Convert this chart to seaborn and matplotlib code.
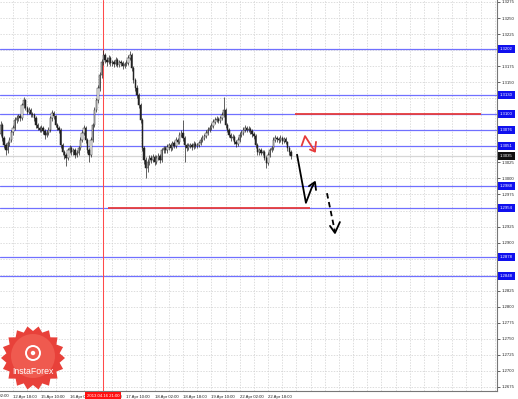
import numpy as np
import pandas as pd
import matplotlib
matplotlib.use("Agg")
import matplotlib.pyplot as plt
import matplotlib.transforms as mtrans
from matplotlib.patches import Polygon, Circle
import seaborn as sns

sns.set_style("white")
plt.rcParams['font.family'] = ['Liberation Sans', 'DejaVu Sans']

# ---------------- data (EURUSD H1) ----------------
open0 = 1.3070
closes = [1.3083,1.3063,1.3052,1.3044,1.3055,1.3060,1.3072,1.3079,1.3091,1.3094,
          1.3097,1.3094,1.3114,1.3122,1.3110,1.3104,1.3107,1.3100,1.3099,1.3094,
          1.3083,1.3079,1.3076,1.3079,1.3074,1.3068,1.3071,1.3076,1.3094,1.3102,
          1.3097,1.3083,1.3079,1.3076,1.3052,1.3041,1.3037,1.3032,1.3044,1.3047,
          1.3041,1.3044,1.3037,1.3040,1.3047,1.3060,1.3071,1.3079,1.3060,1.3044,
          1.3037,1.3060,1.3083,1.3107,1.3122,1.3141,1.3161,1.3181,1.3192,1.3185,
          1.3181,1.3188,1.3180,1.3181,1.3178,1.3185,1.3177,1.3181,1.3180,1.3175,
          1.3178,1.3180,1.3188,1.3192,1.3172,1.3153,1.3141,1.3130,1.3114,1.3091,
          1.3047,1.3029,1.3016,1.3026,1.3032,1.3029,1.3033,1.3026,1.3032,1.3035,
          1.3029,1.3044,1.3047,1.3044,1.3049,1.3052,1.3047,1.3055,1.3051,1.3060,
          1.3057,1.3068,1.3071,1.3063,1.3052,1.3047,1.3051,1.3052,1.3049,1.3054,
          1.3051,1.3052,1.3055,1.3060,1.3063,1.3066,1.3071,1.3076,1.3079,1.3082,
          1.3088,1.3091,1.3093,1.3090,1.3094,1.3099,1.3107,1.3083,1.3076,1.3068,
          1.3063,1.3065,1.3057,1.3054,1.3060,1.3068,1.3071,1.3076,1.3079,1.3076,
          1.3077,1.3074,1.3069,1.3066,1.3052,1.3041,1.3044,1.3040,1.3041,1.3032,
          1.3024,1.3037,1.3044,1.3047,1.3060,1.3063,1.3061,1.3060,1.3063,1.3058,
          1.3061,1.3057,1.3047,1.3041,1.3035]
highs = [1.3090,1.3087,1.3066,1.3056,1.3059,1.3064,1.3076,1.3083,1.3095,1.3099,
         1.3101,1.3100,1.3118,1.3127,1.3124,1.3113,1.3111,1.3110,1.3104,1.3102,
         1.3097,1.3087,1.3082,1.3083,1.3082,1.3077,1.3075,1.3080,1.3098,1.3106,
         1.3105,1.3099,1.3087,1.3082,1.3078,1.3055,1.3045,1.3040,1.3048,1.3052,
         1.3050,1.3048,1.3047,1.3044,1.3051,1.3064,1.3075,1.3084,1.3082,1.3063,
         1.3048,1.3064,1.3087,1.3111,1.3126,1.3146,1.3166,1.3186,1.3200,1.3195,
         1.3189,1.3192,1.3191,1.3185,1.3184,1.3189,1.3188,1.3185,1.3185,1.3183,
         1.3182,1.3184,1.3193,1.3199,1.3195,1.3175,1.3157,1.3145,1.3133,1.3117,
         1.3094,1.3050,1.3034,1.3031,1.3037,1.3036,1.3038,1.3036,1.3036,1.3039,
         1.3038,1.3048,1.3051,1.3050,1.3053,1.3056,1.3055,1.3059,1.3058,1.3064,
         1.3063,1.3072,1.3076,1.3091,1.3066,1.3055,1.3055,1.3056,1.3055,1.3058,
         1.3057,1.3056,1.3059,1.3064,1.3067,1.3070,1.3075,1.3080,1.3083,1.3086,
         1.3092,1.3095,1.3097,1.3096,1.3098,1.3103,1.3127,1.3110,1.3086,1.3079,
         1.3071,1.3069,1.3068,1.3060,1.3064,1.3072,1.3075,1.3080,1.3084,1.3082,
         1.3081,1.3080,1.3077,1.3072,1.3069,1.3055,1.3048,1.3047,1.3045,1.3044,
         1.3035,1.3041,1.3048,1.3051,1.3064,1.3068,1.3066,1.3065,1.3067,1.3066,
         1.3065,1.3064,1.3059,1.3050,1.3044]
lows = [1.3066,1.3058,1.3047,1.3037,1.3040,1.3051,1.3057,1.3068,1.3076,1.3087,
        1.3090,1.3089,1.3091,1.3110,1.3106,1.3100,1.3100,1.3096,1.3095,1.3090,
        1.3079,1.3075,1.3072,1.3073,1.3070,1.3062,1.3065,1.3068,1.3073,1.3090,
        1.3093,1.3080,1.3075,1.3071,1.3048,1.3036,1.3030,1.3019,1.3028,1.3040,
        1.3037,1.3036,1.3032,1.3033,1.3036,1.3044,1.3057,1.3067,1.3056,1.3040,
        1.3026,1.3034,1.3057,1.3080,1.3103,1.3118,1.3137,1.3157,1.3177,1.3180,
        1.3176,1.3178,1.3176,1.3176,1.3174,1.3175,1.3173,1.3174,1.3176,1.3170,
        1.3172,1.3175,1.3177,1.3185,1.3168,1.3148,1.3136,1.3125,1.3109,1.3086,
        1.3042,1.3022,1.3001,1.3010,1.3021,1.3024,1.3025,1.3021,1.3022,1.3028,
        1.3024,1.3026,1.3040,1.3040,1.3040,1.3045,1.3043,1.3044,1.3047,1.3048,
        1.3053,1.3054,1.3064,1.3059,1.3026,1.3043,1.3044,1.3047,1.3045,1.3046,
        1.3047,1.3048,1.3049,1.3052,1.3057,1.3060,1.3063,1.3068,1.3073,1.3076,
        1.3079,1.3085,1.3088,1.3086,1.3087,1.3091,1.3096,1.3079,1.3072,1.3064,
        1.3059,1.3060,1.3053,1.3049,1.3051,1.3057,1.3065,1.3068,1.3073,1.3072,
        1.3073,1.3070,1.3065,1.3062,1.3048,1.3037,1.3037,1.3036,1.3036,1.3028,
        1.3016,1.3021,1.3034,1.3041,1.3044,1.3057,1.3057,1.3056,1.3057,1.3054,
        1.3055,1.3053,1.3043,1.3037,1.3031]

level_prices = [1.3202, 1.3130, 1.3100, 1.3076, 1.3051, 1.2988, 1.2954, 1.2878, 1.2848]
red_levels = [1.3100, 1.2954]
red_start_bar = [166, 60.6]
red_end_bar = [271, 174.7]

ytick_labels = ["1.2675","1.2700","1.2725","1.2750","1.2775","1.2800","1.2825","1.2850",
                "1.2875","1.2900","1.2925","1.2950","1.2975","1.3000","1.3025","1.3050",
                "1.3075","1.3100","1.3125","1.3150","1.3175","1.3200","1.3225","1.3250","1.3275"]
xtick_bars = [7, 23, 39, 55, 71, 87, 103, 119, 135, 151]
xtick_labels = ["12 Apr 18:00","15 Apr 10:00","16 Apr 02:00","16 Apr 18:00","17 Apr 10:00",
                "18 Apr 02:00","18 Apr 18:00","19 Apr 10:00","22 Apr 02:00","22 Apr 18:00"]
cut_bar, cut_label = -9, "12 Apr 02:00"
cross_bar, cross_label = 58, "2013.04.16 21:00"

fc_black = pd.DataFrame({"bar": [167.4, 172.4, 175.6, 177.2],
                         "price": [1.3037, 1.2962, 1.2985, 1.2993]})
fc_black_head = pd.DataFrame({"bar": [174.1, 177.5, 178.1], "price": [1.2988, 1.29945, 1.2982]})
fc_dash = pd.DataFrame({"bar": [184.3, 188.8], "price": [1.2977, 1.2917]})
fc_dash_head = pd.DataFrame({"bar": [186.0, 188.8, 191.6], "price": [1.2926, 1.2915, 1.2932]})
fc_red = pd.DataFrame({"bar": [170.0, 171.9, 177.5], "price": [1.3051, 1.3066, 1.3042]})
fc_red_head = pd.DataFrame({"bar": [174.7, 177.5, 178.1], "price": [1.3045, 1.3042, 1.3057]})

# ---------------- figure ----------------
W, H = 518, 399
fig = plt.figure(figsize=(W / 100, H / 100), dpi=100)
ax = fig.add_axes([0, 8 / H, 497 / W, 391 / H])
ax.set_xlim(-0.34, 280.3)
ax.set_ylim(1.26687, 1.32781)

yt = [float(s) for s in ytick_labels]
boxed = level_prices + [closes[-1]]
shown = [("" if min(abs(v - b) for b in boxed) < 0.0007 else s) for v, s in zip(yt, ytick_labels)]
ax.set_yticks(yt)
ax.set_yticklabels(shown)
ax.yaxis.tick_right()
ax.set_xticks(xtick_bars)
ax.set_xticklabels(xtick_labels)
for lbl in ax.get_xticklabels():
    lbl.set_horizontalalignment("left")
ax.tick_params(axis="both", labelsize=3.1, colors="#222222", length=2, width=0.5, pad=1)
ax.tick_params(axis="x", pad=1.2)

for s in ["top", "left"]:
    ax.spines[s].set_visible(False)
for s in ["right", "bottom"]:
    ax.spines[s].set_color("#777777")
    ax.spines[s].set_linewidth(0.8)

# grid
for p in yt:
    ax.axhline(p, color="#cfcfcf", lw=0.5, ls=(0, (2, 2)), zorder=0)
for b in np.arange(-1, 281, 8):
    ax.axvline(b, color="#cfcfcf", lw=0.5, ls=(0, (2, 2)), zorder=0)

# levels
for p in level_prices:
    ax.axhline(p, color="#7070ff", lw=0.9, zorder=1)
for p, a, b in zip(red_levels, red_start_bar, red_end_bar):
    ax.plot([a, b], [p, p], color="#e63b3b", lw=1.3, zorder=2, solid_capstyle="butt")

# bid line
ax.axhline(closes[-1], color="#d6d6d6", lw=0.9, zorder=1)

# crosshair
ax.axvline(cross_bar, color="#ff4a4a", lw=0.75, zorder=1.5, snap=True)

# candles
opens = [open0] + closes[:-1]
xs = np.arange(len(closes))
o = np.array(opens); c = np.array(closes)
ax.vlines(xs, lows, highs, color="#222222", lw=0.5, zorder=3)
bull = c >= o
ax.bar(xs[bull], np.maximum(c - o, 0.00006)[bull], bottom=o[bull], width=0.75,
       color="white", edgecolor="#222222", linewidth=0.35, zorder=4)
ax.bar(xs[~bull], (o - c)[~bull], bottom=c[~bull], width=0.75,
       color="#222222", edgecolor="#222222", linewidth=0.35, zorder=4)

# forecast arrows
kw = dict(x="bar", y="price", sort=False, estimator=None, ax=ax, legend=False)
sns.lineplot(data=fc_black, color="black", lw=1.3, **kw)
sns.lineplot(data=fc_black_head, color="black", lw=1.3, **kw)
sns.lineplot(data=fc_dash, color="black", lw=1.3, linestyle=(0, (3, 2)), **kw)
sns.lineplot(data=fc_dash_head, color="black", lw=1.3, **kw)
sns.lineplot(data=fc_red, color="#e63b3b", lw=1.3, **kw)
sns.lineplot(data=fc_red_head, color="#e63b3b", lw=1.3, **kw)
ax.set_xlabel(""); ax.set_ylabel("")

# price labels on right axis
tr = mtrans.blended_transform_factory(ax.transAxes, ax.transData)
for p in level_prices:
    ax.text(1.006, p, f"{p:.4f}", transform=tr, ha="left", va="center", fontsize=3.1,
            color="white", clip_on=False, zorder=10,
            bbox=dict(boxstyle="square,pad=0.45", fc="#1010ee", ec="none"))
ax.text(1.006, closes[-1], f"{closes[-1]:.4f}", transform=tr, ha="left", va="center",
        fontsize=3.1, color="white", clip_on=False, zorder=10,
        bbox=dict(boxstyle="square,pad=0.45", fc="#111111", ec="none"))

# date labels at bottom
trx = mtrans.blended_transform_factory(ax.transData, ax.transAxes)
ax.text(cut_bar, -0.0125, cut_label, transform=trx, ha="left", va="center", fontsize=3.1,
        color="#222222", clip_on=False)
ax.text(cross_bar, -0.0125, cross_label, transform=trx, ha="center", va="center",
        fontsize=3.1, color="white", clip_on=False, zorder=10,
        bbox=dict(boxstyle="square,pad=0.4", fc="#ff1010", ec="none"))

# InstaForex watermark
ov = fig.add_axes([0, 0, 1, 1], zorder=5)
ov.set_xlim(0, W); ov.set_ylim(H, 0); ov.axis("off"); ov.patch.set_alpha(0)
cx, cy = 33, 358
n = 18
ang = np.linspace(0, 2 * np.pi, 2 * n, endpoint=False)
rad = np.where(np.arange(2 * n) % 2 == 0, 32, 27)
ov.add_patch(Polygon(np.c_[cx + rad * np.cos(ang), cy + rad * np.sin(ang)],
                     closed=True, fc="#e8413a", ec="none"))
ov.add_patch(Circle((cx, cy - 2), 22, fc="#ef5a4f", ec="none"))
ov.add_patch(Circle((cx, cy - 5), 7, fc="none", ec="white", lw=1.4))
ov.add_patch(Circle((cx, cy - 5), 2.2, fc="white", ec="none"))
ov.text(cx, cy + 14, "InstaForex", color="white", fontsize=6.3, ha="center", va="center")

fig.savefig("out.png", dpi=100)
